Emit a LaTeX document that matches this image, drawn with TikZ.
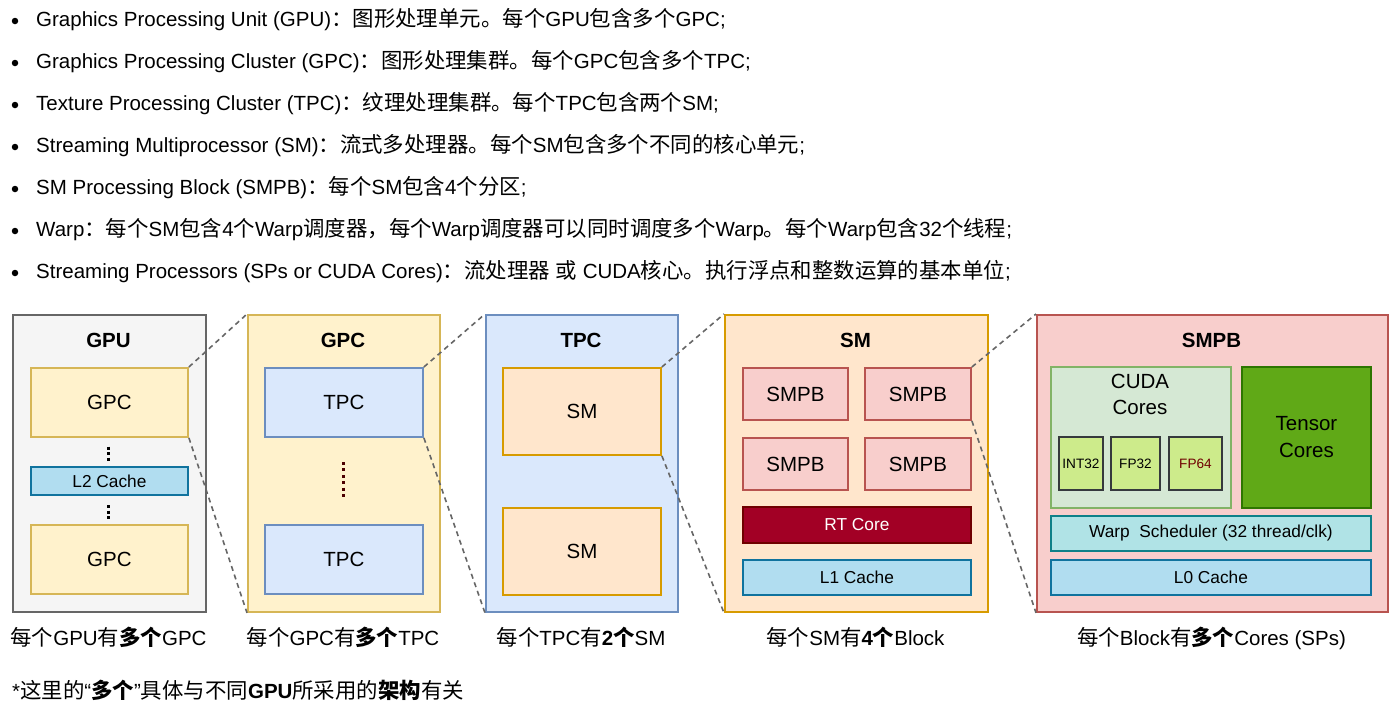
\documentclass[tikz,border=0pt]{standalone}
\usepackage{fontspec}
\setmainfont{Liberation Sans}
\newfontfamily\cjk[Scale=1.045]{Noto Sans CJK SC}
\usepackage{tikz}
\usetikzlibrary{positioning}
\newcommand{\zh}[1]{{\cjk #1}}
\definecolor{gpuFill}{HTML}{F5F5F5}
\definecolor{gpuLine}{HTML}{666666}
\definecolor{gpcFill}{HTML}{FFF2CC}
\definecolor{gpcLine}{HTML}{D6B656}
\definecolor{tpcFill}{HTML}{DAE8FC}
\definecolor{tpcLine}{HTML}{6C8EBF}
\definecolor{smFill}{HTML}{FFE6CC}
\definecolor{smLine}{HTML}{D79B00}
\definecolor{smpbFill}{HTML}{F8CECC}
\definecolor{smpbLine}{HTML}{B85450}
\definecolor{cacheFill}{HTML}{B1DDF0}
\definecolor{cacheLine}{HTML}{10739E}
\definecolor{rtFill}{HTML}{A20025}
\definecolor{rtLine}{HTML}{6F0000}
\definecolor{cudaFill}{HTML}{D5E8D4}
\definecolor{cudaLine}{HTML}{82B366}
\definecolor{coreFill}{HTML}{CDEB8B}
\definecolor{coreLine}{HTML}{36393D}
\definecolor{tensorFill}{HTML}{60A917}
\definecolor{tensorLine}{HTML}{2D7600}
\definecolor{warpFill}{HTML}{B0E3E6}
\definecolor{warpLine}{HTML}{0E8088}
\definecolor{dotRed}{HTML}{4C0000}

\begin{document}
\begin{tikzpicture}[x=1pt,y=-1pt,
    every node/.style={inner sep=0pt,font=\fontsize{20.5}{25}\selectfont},
    panel/.style 2 args={draw=#2,fill=#1,line width=1.9pt,anchor=north west},
    unit/.style 2 args={draw=#2,fill=#1,line width=1.9pt,anchor=north west,align=center},
    title/.style={font=\fontsize{20.5}{25}\selectfont\bfseries},
    small/.style={font=\fontsize{17.3}{20}\selectfont},
    tiny/.style={font=\fontsize{13.6}{16}\selectfont},
    zoomline/.style={draw=gpuLine,line width=1.6pt,dash pattern=on 5pt off 4pt},
    vdots/.style={line width=3pt,dash pattern=on 3pt off 2.5pt}]
  \useasboundingbox (0,0) rectangle (1393,715);

  % list at the top
  \foreach \i/\y in {1/21,2/63,3/105,4/147,5/189,6/231,7/273}
    \node[circle,fill=black,minimum size=6.5pt] (dot\i) at (15,\y) {};
  \node[anchor=base west] (item1) at (36,26.5) {Graphics Processing Unit (GPU)\zh{：图形处理单元。每个}GPU\zh{包含多个}GPC;};
  \node[anchor=base west] (item2) at (36,68.5) {Graphics Processing Cluster (GPC)\zh{：图形处理集群。每个}GPC\zh{包含多个}TPC;};
  \node[anchor=base west] (item3) at (36,110.5) {Texture Processing Cluster (TPC)\zh{：纹理处理集群。每个}TPC\zh{包含两个}SM;};
  \node[anchor=base west] (item4) at (36,152.5) {Streaming Multiprocessor (SM)\zh{：流式多处理器。每个}SM\zh{包含多个不同的核心单元};};
  \node[anchor=base west] (item5) at (36,194.5) {SM Processing Block (SMPB)\zh{：每个}SM\zh{包含}4\zh{个分区};};
  \node[anchor=base west] (item6) at (36,236.5) {Warp\zh{：每个}SM\zh{包含}4\zh{个}Warp\zh{调度器，每个}Warp\zh{调度器可以同时调度多个}Warp\zh{。每个}Warp\zh{包含}32\zh{个线程};};
  \node[anchor=base west] (item7) at (36,278.5) {Streaming Processors (SPs or CUDA Cores)\zh{：流处理器} \zh{或} CUDA\zh{核心。执行浮点和整数运算的基本单位};};

  % GPU
  \node[panel={gpuFill}{gpuLine},minimum width=193,minimum height=297] (gpu) at (12,314) {};
  \node[title] (gpuT) at (108.5,340) {GPU};
  \node[unit={gpcFill}{gpcLine},minimum width=157,minimum height=69] (gpcA) at (30,367) {GPC};
  \node[unit={cacheFill}{cacheLine},small,minimum width=157,minimum height=28] (l2) at (30,466) {L2 Cache};
  \node[unit={gpcFill}{gpcLine},minimum width=157,minimum height=69] (gpcB) at (30,524) {GPC};
  \draw[vdots] (108.5,446.5) -- (108.5,461);
  \draw[vdots] (108.5,505) -- (108.5,519.5);

  % GPC
  \node[panel={gpcFill}{gpcLine},minimum width=192,minimum height=297] (gpc) at (247,314) {};
  \node[title] (gpcT) at (343,340) {GPC};
  \node[unit={tpcFill}{tpcLine},minimum width=158,minimum height=69] (tpcA) at (264,367) {TPC};
  \node[unit={tpcFill}{tpcLine},minimum width=158,minimum height=69] (tpcB) at (264,524) {TPC};
  \draw[vdots,draw=dotRed,dash pattern=on 3pt off 3.4pt] (343,462) -- (343,500);

  % TPC
  \node[panel={tpcFill}{tpcLine},minimum width=192,minimum height=297] (tpc) at (485,314) {};
  \node[title] (tpcT) at (581,340) {TPC};
  \node[unit={smFill}{smLine},minimum width=158,minimum height=87] (smA) at (502,367) {SM};
  \node[unit={smFill}{smLine},minimum width=158,minimum height=87] (smB) at (502,507) {SM};

  % SM
  \node[panel={smFill}{smLine},minimum width=263,minimum height=297] (sm) at (724,314) {};
  \node[title] (smT) at (855.5,340) {SM};
  \node[unit={smpbFill}{smpbLine},minimum width=105,minimum height=52] (smpbA) at (742,367) {SMPB};
  \node[unit={smpbFill}{smpbLine},minimum width=106,minimum height=52] (smpbB) at (864,367) {SMPB};
  \node[unit={smpbFill}{smpbLine},minimum width=105,minimum height=52] (smpbC) at (742,437) {SMPB};
  \node[unit={smpbFill}{smpbLine},minimum width=106,minimum height=52] (smpbD) at (864,437) {SMPB};
  \node[unit={rtFill}{rtLine},small,text=white,minimum width=228,minimum height=36] (rt) at (742,506) {RT Core};
  \node[unit={cacheFill}{cacheLine},small,minimum width=228,minimum height=35] (l1) at (742,559) {L1 Cache};

  % SMPB
  \node[panel={smpbFill}{smpbLine},minimum width=351,minimum height=297] (smpb) at (1036,314) {};
  \node[title] (smpbT) at (1211.5,340) {SMPB};
  \node[unit={cudaFill}{cudaLine},minimum width=180,minimum height=141] (cuda) at (1050,366) {};
  \node[align=center,font=\fontsize{20.5}{26}\selectfont] (cudaT) at (1140,394) {CUDA\\Cores};
  \node[unit={coreFill}{coreLine},tiny,minimum width=44,minimum height=53] (int32) at (1058,436) {INT32};
  \node[unit={coreFill}{coreLine},tiny,minimum width=49,minimum height=53] (fp32) at (1110,436) {FP32};
  \node[unit={coreFill}{coreLine},tiny,text=rtLine,minimum width=53,minimum height=53] (fp64) at (1168,436) {FP64};
  \node[unit={tensorFill}{tensorLine},font=\fontsize{20.5}{27}\selectfont,minimum width=129,minimum height=141] (tensor) at (1241,366) {Tensor\\Cores};
  \node[unit={warpFill}{warpLine},small,minimum width=320,minimum height=35] (warp) at (1050,515) {Warp\ \ Scheduler (32 thread/clk)};
  \node[unit={cacheFill}{cacheLine},small,minimum width=320,minimum height=35] (l0) at (1050,559) {L0 Cache};

  % zoom lines
  \draw[zoomline] (gpcA.north east) -- (gpc.north west);
  \draw[zoomline] (gpcA.south east) -- (gpc.south west);
  \draw[zoomline] (tpcA.north east) -- (tpc.north west);
  \draw[zoomline] (tpcA.south east) -- (tpc.south west);
  \draw[zoomline] (smA.north east) -- (sm.north west);
  \draw[zoomline] (smA.south east) -- (sm.south west);
  \draw[zoomline] (smpbB.north east) -- (smpb.north west);
  \draw[zoomline] (smpbB.south east) -- (smpb.south west);

  % captions
  \node[anchor=base] (gpuC) at (108.5,645) {\zh{每个}GPU\zh{有}\textbf{\zh{多个}}GPC};
  \node[anchor=base] (gpcC) at (343,645) {\zh{每个}GPC\zh{有}\textbf{\zh{多个}}TPC};
  \node[anchor=base] (tpcC) at (581,645) {\zh{每个}TPC\zh{有}\textbf{2\zh{个}}SM};
  \node[anchor=base] (smC) at (855.5,645) {\zh{每个}SM\zh{有}\textbf{4\zh{个}}Block};
  \node[anchor=base] (smpbC2) at (1211.5,645) {\zh{每个}Block\zh{有}\textbf{\zh{多个}}Cores (SPs)};
  \node[anchor=base west] (note) at (12,698) {*\zh{这里的}“\textbf{\zh{多个}}”\zh{具体与不同}\textbf{GPU}\zh{所采用的}\textbf{\zh{架构}}\zh{有关}};
\end{tikzpicture}
\end{document}
